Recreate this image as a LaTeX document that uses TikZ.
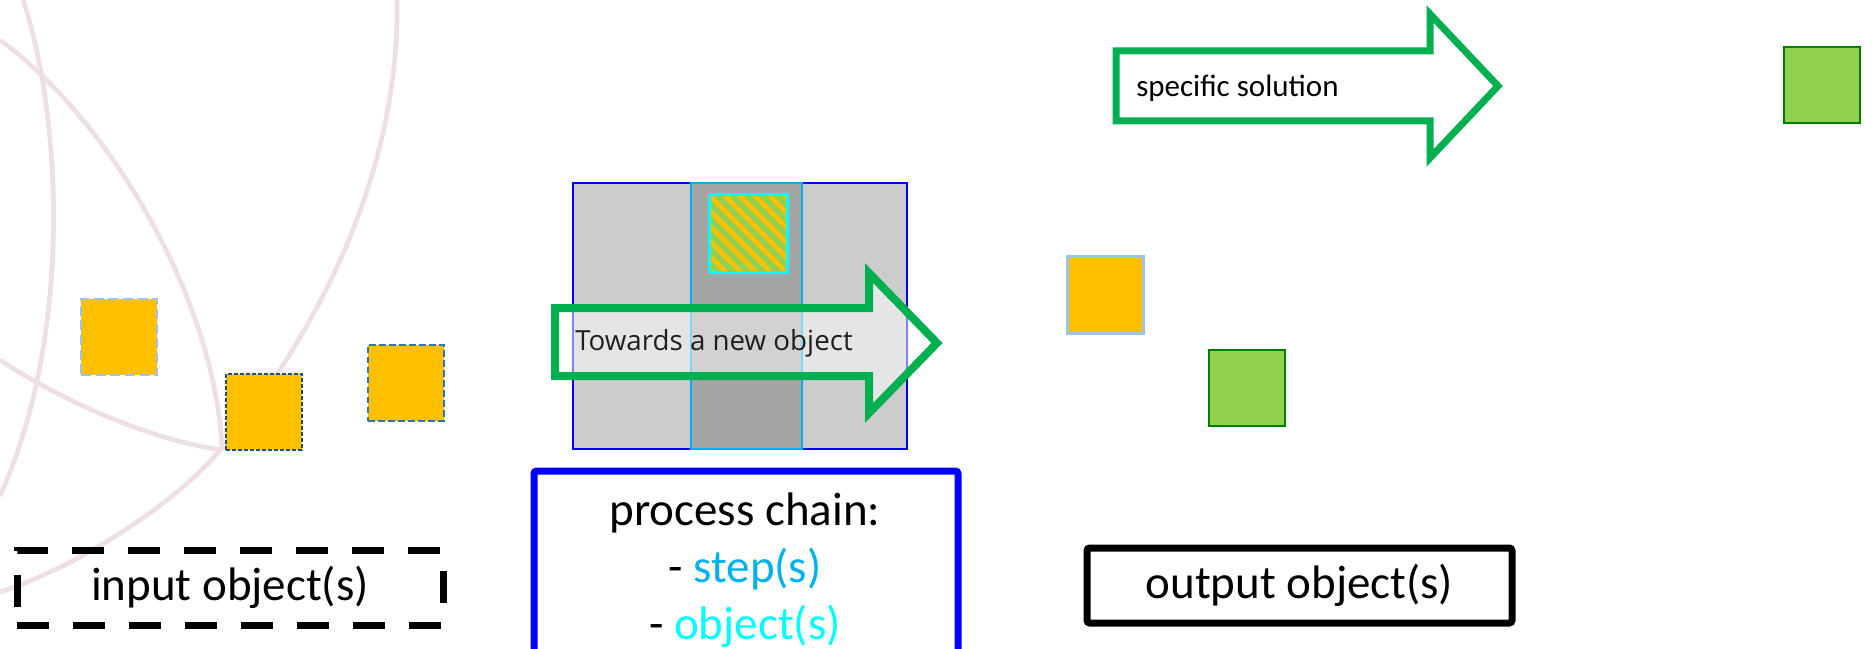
\documentclass[tikz,border=0pt]{standalone}
\usepackage{fontspec}
\setmainfont{Carlito}
\newfontfamily\uifont{Open Sans}
\usepackage{xcolor}
\usepackage{tikz}
\usetikzlibrary{positioning}

\definecolor{objorange}{RGB}{255,192,0}
\definecolor{objgreen}{RGB}{146,208,80}
\definecolor{objgreenline}{RGB}{0,128,0}
\definecolor{arrowgreen}{RGB}{0,176,80}
\definecolor{paleblue}{RGB}{157,195,230}
\definecolor{navyblue}{RGB}{31,78,121}
\definecolor{midblue}{RGB}{46,117,182}
\definecolor{stepblue}{RGB}{0,176,240}
\definecolor{objcyan}{RGB}{0,255,255}
\definecolor{logopink}{RGB}{238,222,229}
\definecolor{panelgrey}{RGB}{204,204,204}
\definecolor{columngrey}{RGB}{165,165,165}

\tikzset{
  objsq/.style={draw, line width=1.5pt, minimum size=57pt, inner sep=0pt},
  bigtext/.style={font=\fontsize{35.25}{42}\selectfont, inner sep=0.75pt},
  boxframe/.style={draw, line width=5.25pt, minimum height=56.25pt, inner sep=0pt},
  solarrow/.style={draw=arrowgreen, line width=5.25pt},
  logoline/.style={draw=logopink, line width=3.5pt},
}

\begin{document}
\begin{tikzpicture}[x=0.75pt,y=0.75pt,yscale=-1,xscale=1]
\useasboundingbox (0,0) rectangle (1875,649);

%faded logo arcs in the back
\draw[logoline] (23,0) .. controls (60,110) and (75,330) .. (0,496) ;
\draw[logoline] (0,40) .. controls (110,120) and (215,300) .. (222,448) ;
\draw[logoline] (397,0) .. controls (400,170) and (320,330) .. (222,448) .. controls (172,508) and (70,570) .. (0,592) ;
\draw[logoline] (0,360) .. controls (60,400) and (150,440) .. (222,450) ;

%Input objects
\node[objsq, fill=objorange, draw=paleblue, dash pattern=on 7.5pt off 3.5pt] (in1) at (119,337) {};
\node[objsq, fill=objorange, draw=navyblue, dash pattern=on 3pt off 1.5pt] (in2) at (264,411.5) {};
\node[objsq, fill=objorange, draw=midblue, dash pattern=on 5pt off 2.5pt] (in3) at (406,382.5) {};
% Text Node
\node[boxframe, bigtext, dash pattern=on 24pt off 18pt, minimum width=319.5pt] (inbox) at (230,587.5) {input object(s)};

%Process chain: steps with the object inside
\draw[draw=blue, fill=panelgrey, line width=1.5pt] (573,183) rectangle (907,449);
\draw[draw=stepblue, fill=columngrey, line width=1.5pt] (691,183) rectangle (802,449);
\begin{scope}
\clip (709,195) rectangle (787,272);
\fill[objgreen] (709,195) rectangle (787,272);
\foreach \k in {-6,...,6}
  \draw[objorange, line width=3.6pt] (709+15*\k,195) -- ++(80,80);
\end{scope}
\draw[objcyan, line width=2.25pt] (709,195) rectangle (787,272);

%Shape: Right Arrow
\draw[solarrow, line width=6pt, fill=white, fill opacity=0.5] (555,308) -- (869,308) -- (869,273) -- (937,343) -- (869,413) -- (869,376) -- (555,376) -- cycle;
% Text Node
\node[anchor=west, inner sep=0pt, font=\uifont\fontsize{20.8}{25}\selectfont, text=black!88] (towards) at (575,343) {Towards a new object};

\node[draw=blue, line width=5.25pt, rounded corners=2pt, minimum width=318pt, minimum height=138pt] (chain) at (746,563) {};
% Text Node
\node[bigtext, anchor=base] (chainhead) at (745,525) {process chain:};
\node[bigtext, anchor=base] (chainsteps) at (745,582) {- \textcolor{stepblue}{step(s)}};
\node[bigtext, anchor=base] (chainobjs) at (745,639) {- \textcolor{objcyan}{object(s)}};

%Output objects
\node[objsq, fill=objorange, draw=paleblue, line width=2.25pt] (out1) at (1105.5,295) {};
\node[objsq, fill=objgreen, draw=objgreenline] (out2) at (1246.5,387.5) {};
\node[boxframe, bigtext, rounded corners=2pt, minimum width=318.75pt] (outbox) at (1299.5,585.5) {output object(s)};

%Shape: Right Arrow
\draw[solarrow] (1116,51) -- (1430,51) -- (1430,14) -- (1498,86) -- (1430,158) -- (1430,121) -- (1116,121) -- cycle;
% Text Node
\node[anchor=west, inner sep=0pt, font=\fontsize{23.25}{28}\selectfont] (solution) at (1136,88) {specific solution};
\node[objsq, fill=objgreen, draw=objgreenline] (solobj) at (1822,85) {};

\end{tikzpicture}
\end{document}
